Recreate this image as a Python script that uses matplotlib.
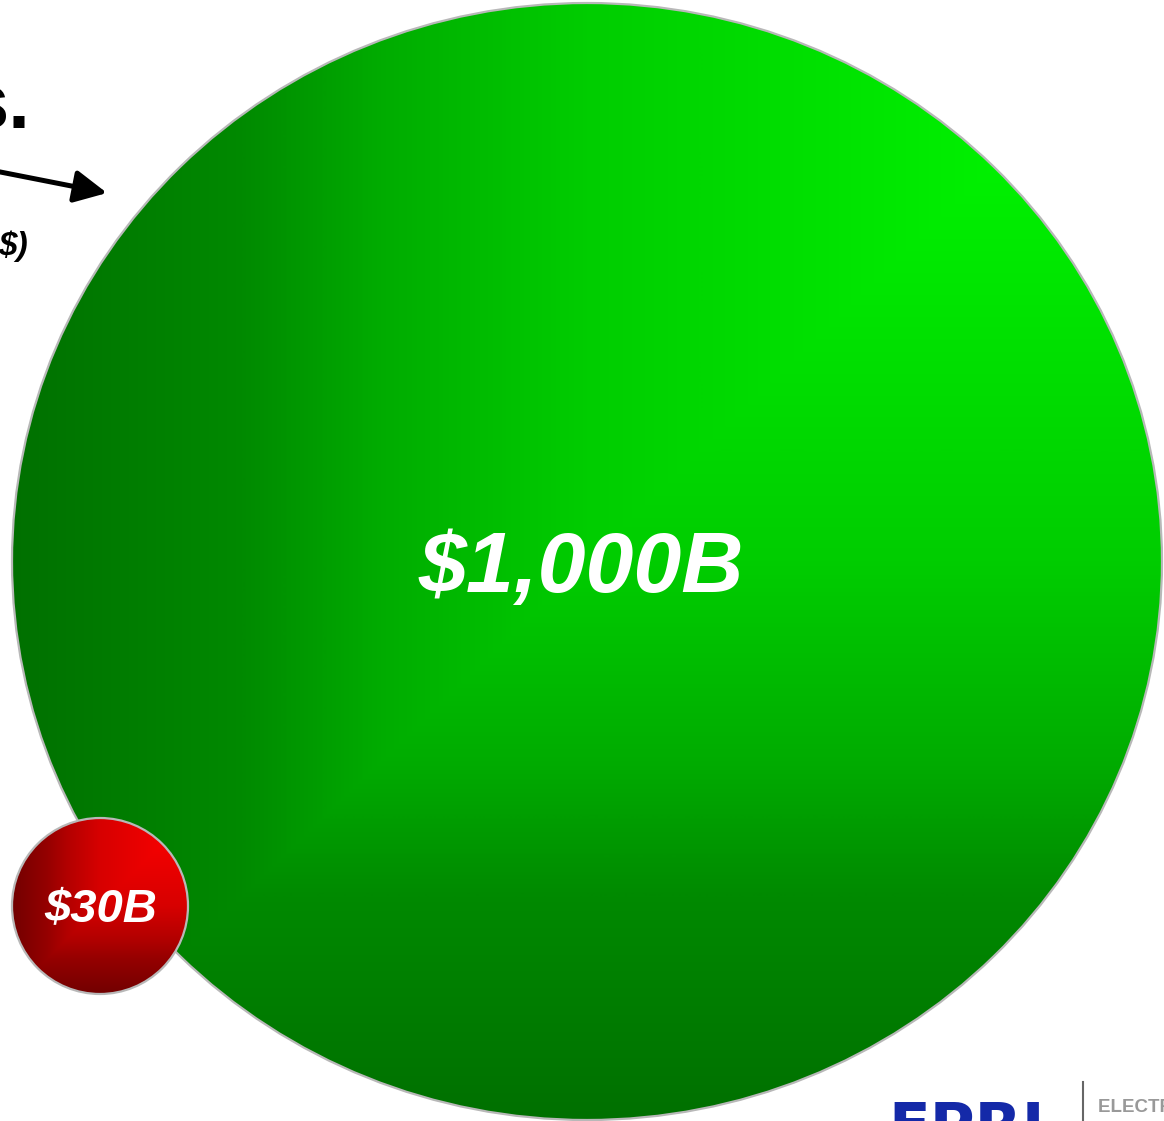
import numpy as np
import matplotlib
matplotlib.use("Agg")
import matplotlib.pyplot as plt
from matplotlib.patches import Ellipse
from matplotlib.colors import LinearSegmentedColormap

# ---- data ----
values = [1000, 30]
labels = ["$1,000B", "$30B"]
title_tail = "s."
subtitle_tail = "$)"
logo_text = "EPRI"
logo_sub = "ELECTRIC POWER RESEARCH INSTITUTE"

W, H = 1164, 1121
fig = plt.figure(figsize=(W / 100, H / 100), dpi=100)
ax = fig.add_axes([0, 0, 1, 1])
ax.set_xlim(0, W)
ax.set_ylim(H, 0)
ax.axis("off")

green_cmap = LinearSegmentedColormap.from_list(
    "g", [(0.0, (0, 1.0, 0)), (0.5, (0, 205/255, 0)), (0.68, (0, 172/255, 0)),
          (0.8, (0, 138/255, 0)), (1.0, (0, 112/255, 0))])
red_cmap = LinearSegmentedColormap.from_list(
    "r", [(0.0, (1.0, 0, 0)), (0.5, (215/255, 0, 0)), (0.68, (180/255, 0, 0)),
          (0.8, (150/255, 0, 0)), (1.0, (115/255, 0, 0))])

# (cx, cy, rx, ry) layout in pixel coordinates
shapes = [((587, 561.5, 575, 558.5), green_cmap, 62),
          ((100, 906, 88, 88), red_cmap, 34)]
baselines = [592, 922]
textx = [581, 101]

for i, ((cx, cy, rx, ry), cmap, fs) in enumerate(shapes):
    x0, x1 = cx - rx, cx + rx
    y0, y1 = cy - ry, cy + ry
    nx, ny = int(2 * rx) + 2, int(2 * ry) + 2
    xs = np.linspace(x0, x1, nx)
    ys = np.linspace(y0, y1, ny)
    X, Y = np.meshgrid(xs, ys)
    t = np.maximum((x1 - X) / (x1 - x0), (Y - y0) / (y1 - y0))
    img = cmap(np.clip(t, 0, 1))
    im = ax.imshow(img, extent=(x0, x1, y1, y0), origin="upper",
                   aspect="auto", interpolation="bilinear", zorder=2 + 2 * i)
    e = Ellipse((cx, cy), 2 * rx, 2 * ry, facecolor="none",
                edgecolor=(0.72, 0.72, 0.72), linewidth=1.6, zorder=3 + 2 * i)
    ax.add_patch(e)
    im.set_clip_path(e)
    ax.text(textx[i], baselines[i], labels[i], color="white", fontsize=fs,
            fontweight="bold", fontstyle="italic", family="Liberation Sans",
            ha="center", va="baseline", zorder=10)

ax.set_xlim(0, W)
ax.set_ylim(H, 0)

# partial title text at the left edge
ax.text(30, 128, title_tail, fontsize=56, fontweight="bold",
        family="Liberation Sans", ha="right", va="baseline", color="black", zorder=10)
ax.annotate("", xy=(107, 193), xytext=(-20, 168),
            arrowprops=dict(arrowstyle="-|>,head_length=0.9,head_width=0.45",
                            lw=3.6, color="black", shrinkA=0, shrinkB=0,
                            mutation_scale=22),
            zorder=10)
ax.text(28, 255, subtitle_tail, fontsize=24, fontweight="bold", fontstyle="italic",
        family="Liberation Sans", ha="right", va="baseline", color="black", zorder=10)

# logo
ax.text(888, 1145, logo_text, fontsize=44, fontweight="bold", family="DejaVu Sans",
        color=(0.08, 0.16, 0.66), ha="left", va="baseline", zorder=10)
ax.plot([1083, 1083], [1082, 1125], color=(0.4, 0.4, 0.4), lw=1.5, zorder=10)
ax.text(1098, 1112, logo_sub, fontsize=13.5, fontweight="bold",
        family=["Liberation Sans Narrow", "Liberation Sans"],
        color=(0.6, 0.6, 0.6), ha="left", va="baseline", zorder=10)

fig.savefig("out.png", dpi=100)
